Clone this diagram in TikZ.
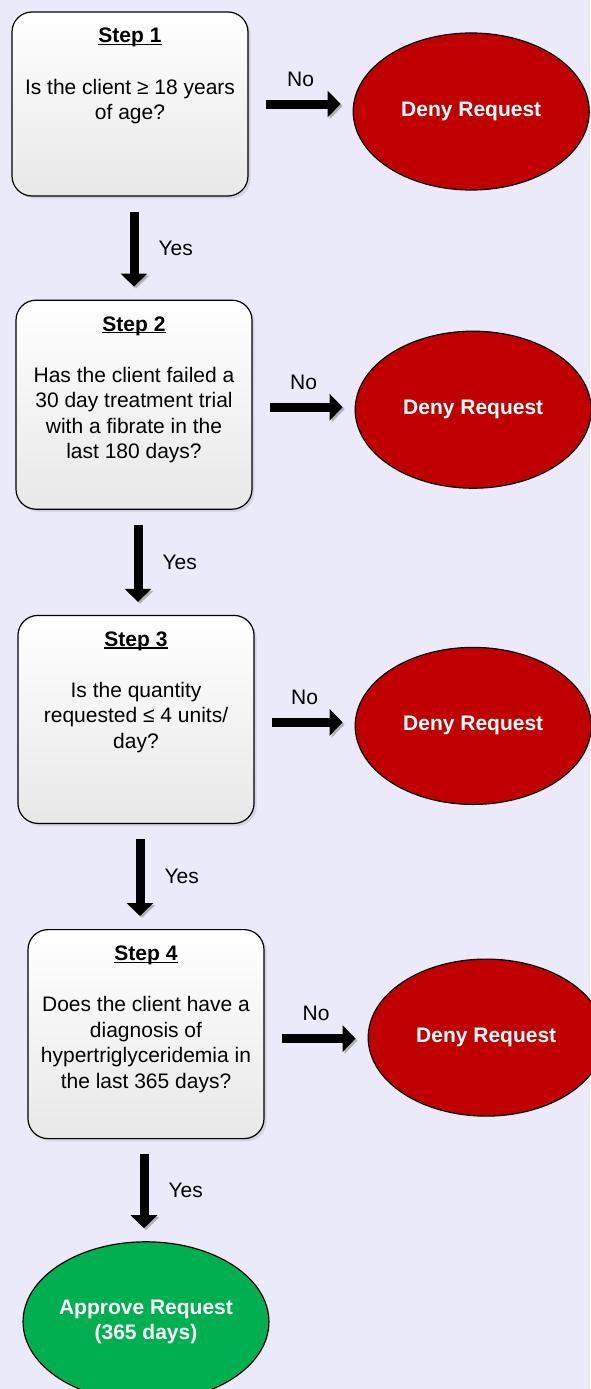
\documentclass[tikz,border=0pt]{standalone}
\usepackage{fontspec}
\setmainfont{Liberation Sans}
\usepackage{tikz}
\usetikzlibrary{shapes.geometric, arrows.meta, positioning, shadows}
\definecolor{bgcol}{RGB}{234,234,250}
\definecolor{denyred}{RGB}{192,0,0}
\definecolor{approvegreen}{RGB}{0,176,80}
\newcommand{\bodyfont}{\fontsize{21pt}{25.5pt}\selectfont}
\newcommand{\steptitle}[1]{\setbox0\hbox{\bfseries #1}\rlap{\rule[-2.2pt]{\wd0}{1.3pt}}\box0}
\newcommand{\steptext}[3]{\parbox[c][#1][t]{236pt}{\centering
	\rule{0pt}{31pt}\steptitle{#2}\\[25.5pt]#3}}
\tikzstyle{stepbox} = [rectangle, 
			draw, 
			line width = 1.2pt, 
			rounded corners = 20pt, 
			top color = white, 
			bottom color = black!9, 
			drop shadow = {opacity = 0.2}, 
			inner sep = 0pt]
\tikzstyle{deny} = [ellipse, 
			draw, 
			line width = 1.2pt, 
			fill = denyred, 
			text = white, 
			font = \bodyfont\bfseries, 
			minimum width = 236pt, 
			minimum height = 157pt, 
			inner sep = 0pt]
\tikzstyle{approve} = [ellipse, 
			draw, 
			line width = 1.2pt, 
			fill = approvegreen, 
			text = white, 
			font = \bodyfont\bfseries, 
			align = center, 
			minimum width = 241pt, 
			minimum height = 160pt, 
			inner sep = 0pt]
\tikzstyle{bigarrow} = [line width = 9pt, 
			-{Triangle[width = 26pt, length = 13pt]}, 
			preaction = {draw = black!30, transform canvas = {shift = {(2pt,-2pt)}}}]
\tikzstyle{lbl} = [inner sep = 0pt]

\begin{document}
\begin{tikzpicture}[font = \bodyfont]
	\fill [bgcol] (0pt,0pt) rectangle (590pt,-1389pt);
	\useasboundingbox (0pt,0pt) rectangle (590pt,-1389pt);
	\node [stepbox] at (130pt,-104pt) (step1) {\steptext{184pt}{Step 1}{Is the client ≥ 18 years\\of age?}};
	\node [stepbox, below=103pt of step1, xshift=4pt] (step2) {\steptext{209pt}{Step 2}{Has the client failed a\\30 day treatment trial\\with a fibrate in the\\last 180 days?}};
	\node [stepbox, below=105pt of step2, xshift=2pt] (step3) {\steptext{208pt}{Step 3}{Is the quantity\\requested ≤ 4 units/\\day?}};
	\node [stepbox, below=105pt of step3, xshift=10pt] (step4) {\steptext{209pt}{Step 4}{Does the client have a\\diagnosis of\\hypertriglyceridemia in\\the last 365 days?}};
	\node [approve, below=102pt of step4] (approval) {Approve Request\\(365 days)};
	\node [deny, right=104pt of step1, yshift=-7.5pt] (deny1) {Deny Request};
	\node [deny, right=102pt of step2, yshift=-5pt] (deny2) {Deny Request};
	\node [deny, right=100pt of step3, yshift=-6.5pt] (deny3) {Deny Request};
	\node [deny, right=103pt of step4, yshift=-3.5pt] (deny4) {Deny Request};
	\draw [bigarrow, shorten <=15pt, shorten >=13pt] ([xshift=4pt]step1.south) -- node [lbl, right=20pt] {Yes} ([xshift=4pt]step1.south |- step2.north);
	\draw [bigarrow, shorten <=15pt, shorten >=13pt] ([xshift=4pt]step2.south) -- node [lbl, right=20pt] {Yes} ([xshift=4pt]step2.south |- step3.north);
	\draw [bigarrow, shorten <=15pt, shorten >=13pt] ([xshift=4pt]step3.south) -- node [lbl, right=20pt] {Yes} ([xshift=4pt]step3.south |- step4.north);
	\draw [bigarrow, shorten <=15pt, shorten >=13pt] ([xshift=-2pt]step4.south) -- node [lbl, right=20pt] {Yes} ([xshift=-2pt]step4.south |- approval.north);
	\draw [bigarrow, shorten <=17pt, shorten >=12pt] (step1.east) -- node [lbl, above=13pt] {No} (step1.east -| deny1.west);
	\draw [bigarrow, shorten <=17pt, shorten >=12pt] ([yshift=-2.5pt]step2.east) -- node [lbl, above=13pt] {No} ([yshift=-2.5pt]step2.east -| deny2.west);
	\draw [bigarrow, shorten <=17pt, shorten >=12pt] ([yshift=-3pt]step3.east) -- node [lbl, above=13pt] {No} ([yshift=-3pt]step3.east -| deny3.west);
	\draw [bigarrow, shorten <=17pt, shorten >=12pt] ([yshift=-4.5pt]step4.east) -- node [lbl, above=13pt] {No} ([yshift=-4.5pt]step4.east -| deny4.west);
\end{tikzpicture}
\end{document}
